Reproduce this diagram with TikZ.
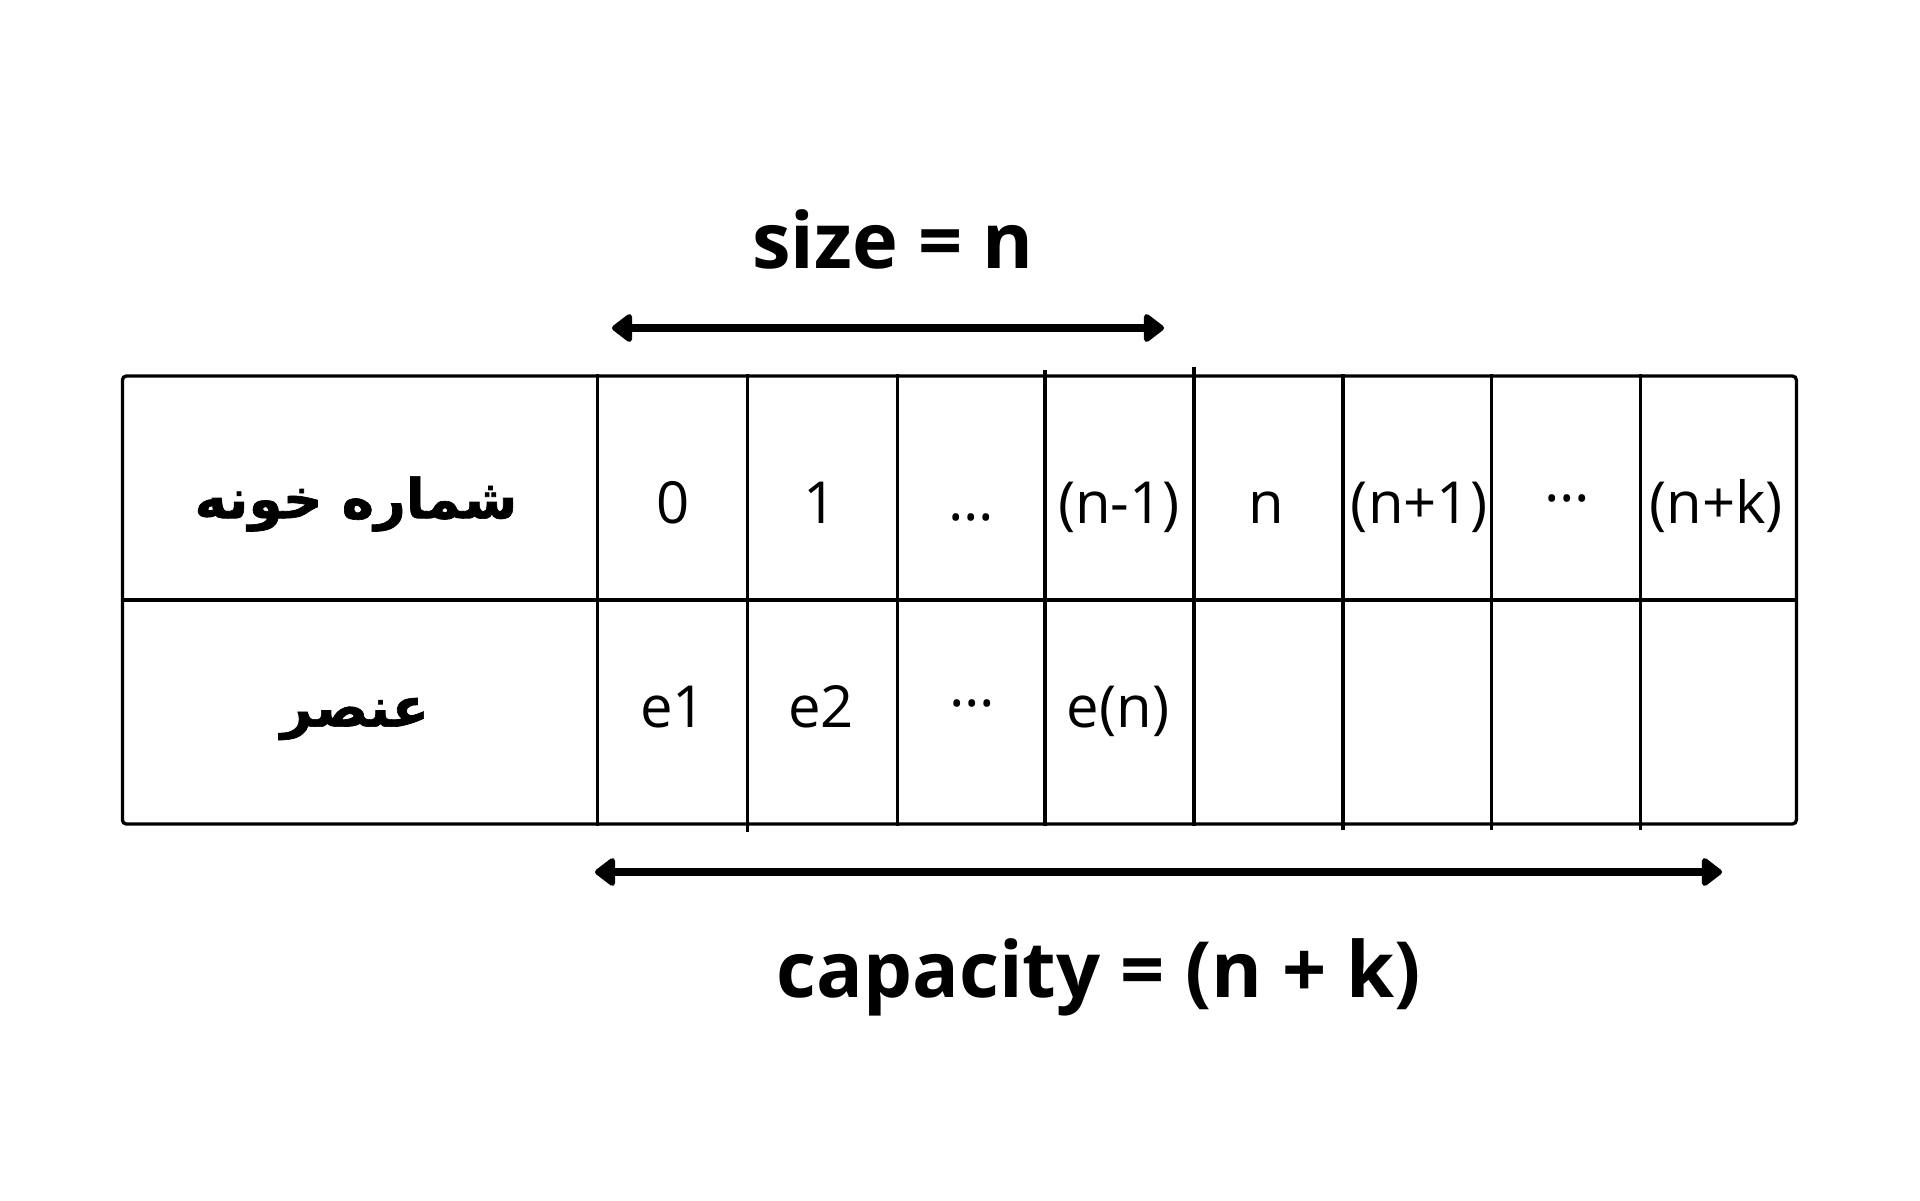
\documentclass[tikz,border=0pt]{standalone}
\usepackage{fontspec}
\setmainfont{Open Sans}
\newfontfamily\arabicfont[Script=Arabic, BoldFeatures={FakeBold=1.2}]{DejaVu Sans}
\TeXXeTstate=1
\usetikzlibrary{arrows.meta}
\tikzset{
  grid/.style={line width=3.3pt, line cap=rect},
  celltext/.style={anchor=base, inner sep=0pt, font=\fontsize{58}{60}\selectfont},
  dots/.style={anchor=base, inner sep=0pt, font=\fontsize{58}{60}\selectfont},
  head/.style={inner sep=0pt, font=\fontsize{55}{60}\arabicfont\bfseries},
  title/.style={anchor=base, inner sep=0pt, font=\fontsize{77.5}{80}\selectfont\bfseries},
  dim/.style={line width=8pt, {Triangle[length=22pt,width=32pt,round]}-{Triangle[length=22pt,width=32pt,round]}}
}
\begin{document}
\begin{tikzpicture}[x=1pt,y=-1pt]
\useasboundingbox[fill=white] (0,0) rectangle (1920,1200);
% frame
\draw[line width=3.3pt, rounded corners=4pt] (122.4,376) rectangle (1796.4,824);
\draw[grid] (122.4,600) -- (1796.4,600);
% column lines
\draw[grid] (597.6,376) -- (597.6,824);
\draw[grid] (747.4,376) -- (747.4,830);
\draw[grid] (897.3,376) -- (897.3,824);
\draw[grid] (1045.1,372) -- (1045.1,824);
\draw[grid] (1194.0,369) -- (1194.0,824);
\draw[grid] (1342.9,376) -- (1342.9,828);
\draw[grid] (1491.6,376) -- (1491.6,828);
\draw[grid] (1640.8,376) -- (1640.8,828);
% header texts
\node[head] (h1) at (356,504) {\beginR شماره خونه\endR};
\node[head] (h2) at (355,719) {\beginR عنصر\endR};
% top row
\node[celltext] (i0) at (673,523) {0};
\node[celltext] (i1) at (820,523) {1};
\node[dots] (i2) at (971,520.5) {…};
\node[celltext] (i3) at (1119,523) {(n-1)};
\node[celltext] (i4) at (1266,523) {n};
\node[celltext] (i5) at (1419,523) {(n+1)};
\node[dots] (i6) at (1567,501.5) {…};
\node[celltext] (i7) at (1716,523) {(n+k)};
% bottom row
\node[celltext] (e1) at (673,727) {e1};
\node[celltext] (e2) at (821,727) {e2};
\node[dots] (e3) at (972,706) {…};
\node[celltext] (e4) at (1118,727) {e(n)};
% size arrow
\node[title] (size) at (893,268) {size = n};
\coordinate (sL) at (612,328);
\coordinate (sR) at (1164,328);
\draw[dim] (sL) -- (sR);
% capacity arrow
\coordinate (cL) at (595,872);
\coordinate (cR) at (1722,872);
\draw[dim] (cL) -- (cR);
\node[title] (cap) at (1099,997) {capacity = (n + k)};
\end{tikzpicture}
\end{document}
